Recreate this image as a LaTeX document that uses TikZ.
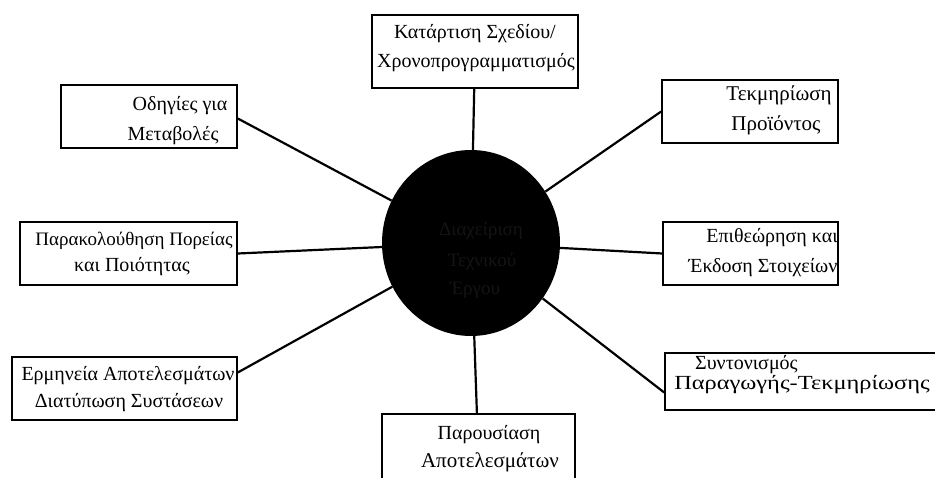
\documentclass[tikz,border=0pt]{standalone}
\usepackage{fontspec}
\setmainfont{Liberation Serif}
\usetikzlibrary{shapes.geometric}
\begin{document}
\begin{tikzpicture}[x=1pt,y=-1pt,
  box/.style={draw, line width=1.6pt, inner sep=0pt},
  lbl/.style={anchor=base, inner sep=0pt, font=\fontsize{20}{24}\selectfont},
  big/.style={font=\fontsize{21}{24}\selectfont},
  small/.style={font=\fontsize{19}{24}\selectfont},
  hid/.style={anchor=base, inner sep=0pt, text=black!92, font=\fontsize{19}{24}\selectfont},
  link/.style={line width=2.2pt}]
\useasboundingbox (0,0) rectangle (935,478);
\clip (0,0) rectangle (935,478);
% boxes
\node[box, minimum width=206, minimum height=73] (top) at (475,51.5) {};
\node[box, minimum width=176, minimum height=63] (tek) at (750,111.5) {};
\node[box, minimum width=175, minimum height=63] (epi) at (750.5,253.5) {};
\node[box, minimum width=300, minimum height=57] (syn) at (815,381.5) {};
\node[box, minimum width=193, minimum height=90] (par) at (478.5,459) {};
\node[box, minimum width=225, minimum height=63] (erm) at (124.5,388.5) {};
\node[box, minimum width=217, minimum height=63] (prk) at (128.5,253.5) {};
\node[box, minimum width=176, minimum height=63] (odg) at (149,116.5) {};
% centre
\node[ellipse, fill=black, minimum width=178, minimum height=186, inner sep=0pt] (c) at (471,243) {};
% connectors
\draw[link] (c) -- (top);
\draw[link] (c) -- (tek.west);
\draw[link] (c) -- (epi.west);
\draw[link] (c) -- ([yshift=-11pt]syn.west);
\draw[link] (c) -- (par);
\draw[link] (c) -- ([yshift=16pt]erm.east);
\draw[link] (c) -- (prk.east);
\draw[link] (c) -- ([yshift=-2pt]odg.east);
% texts
\node[lbl] (topA) at (475,39) {Κατάρτιση Σχεδίου/};
\node[lbl] (topB) at (476,68) {Χρονοπρογραμματισμός};
\node[lbl, big] (tekA) at (779,101) {Τεκμηρίωση};
\node[lbl, big] (tekB) at (776,131) {Προϊόντος};
\node[lbl] (epiA) at (772,243) {Επιθεώρηση και};
\node[lbl] (epiB) at (763,273) {Έκδοση Στοιχείων};
\node[lbl, anchor=base west] (synA) at (695,370) {Συντονισμός};
\node[lbl, anchor=base west, xscale=1.22] (synB) at (674,390) {Παραγωγής-Τεκμηρίωσης};
\node[lbl] (parA) at (489,439) {Παρουσίαση};
\node[lbl, big] (parB) at (490,467) {Αποτελεσμάτων};
\node[lbl] (ermA) at (128,381) {Ερμηνεία Αποτελεσμάτων};
\node[lbl] (ermB) at (129,407) {Διατύπωση Συστάσεων};
\node[lbl, small] (prkA) at (134,246) {Παρακολούθηση Πορείας};
\node[lbl] (prkB) at (132,272) {και Ποιότητας};
\node[lbl] (odgA) at (180,111) {Οδηγίες για};
\node[lbl] (odgB) at (173,141) {Μεταβολές};
\node[hid] (cA) at (481,236) {Διαχείριση};
\node[hid] (cB) at (482,267) {Τεχνικού};
\node[hid] (cC) at (475,295) {Έργου};
\end{tikzpicture}
\end{document}
